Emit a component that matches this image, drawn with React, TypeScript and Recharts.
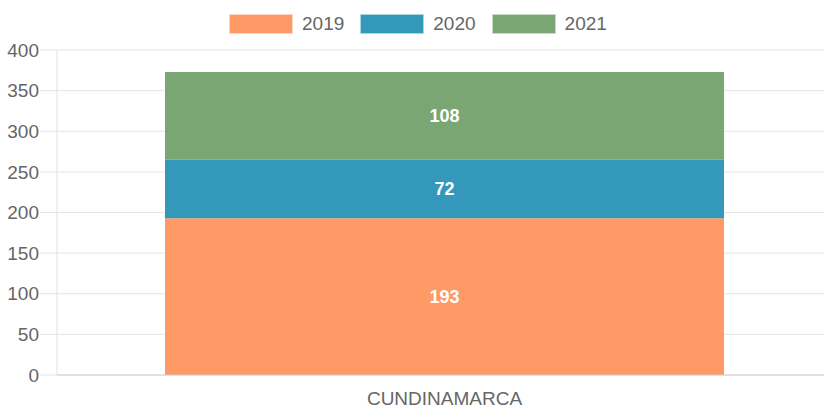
import React from 'react';
import { BarChart, Bar, XAxis, YAxis, CartesianGrid, LabelList } from 'recharts';

const categories = ['CUNDINAMARCA'];
const values2019 = [193];
const values2020 = [72];
const values2021 = [108];
const yTicks = [0, 50, 100, 150, 200, 250, 300, 350, 400];

const SERIES = [
  { key: 'y2019', name: '2019', color: '#ff9966', values: values2019 },
  { key: 'y2020', name: '2020', color: '#3498ba', values: values2020 },
  { key: 'y2021', name: '2021', color: '#7aa673', values: values2021 },
];

const data = categories.map((name, i) => {
  const row: Record<string, string | number> = { name };
  SERIES.forEach((s) => {
    row[s.key] = s.values[i];
  });
  return row;
});

const FONT = '"Liberation Sans", Arial, Helvetica, sans-serif';

const Legend: React.FC = () => (
  <div
    style={{
      position: 'absolute',
      top: 14,
      left: 229,
      display: 'flex',
      gap: 16,
      fontFamily: FONT,
      fontSize: 19,
      color: '#666',
    }}
  >
    {SERIES.map((s) => (
      <div key={s.key} style={{ display: 'flex', alignItems: 'center', gap: 9, height: 20 }}>
        <div style={{ width: 62, height: 18, background: s.color, border: '1px solid rgba(255,255,255,0.6)' }} />
        <span>{s.name}</span>
      </div>
    ))}
  </div>
);

export default function App() {
  return (
    <div style={{ position: 'absolute', left: 0, top: 0, width: 824, height: 409, background: '#fff' }}>
      <Legend />
      <BarChart
        width={824}
        height={409}
        data={data}
        margin={{ top: 50, right: 0, left: 0, bottom: 0 }}
      >
        <CartesianGrid vertical={false} stroke="#e5e5e5" />
        <XAxis
          dataKey="name"
          height={34}
          padding={{ left: 8, right: 0 }}
          tickLine={false}
          tickMargin={11}
          axisLine={{ stroke: '#cfcfcf' }}
          tick={{ fill: '#666', fontSize: 19, fontFamily: FONT }}
        />
        <YAxis
          width={57}
          domain={[0, 400]}
          ticks={yTicks}
          interval={0}
          tickSize={17}
          tickMargin={1}
          tickLine={{ stroke: '#e5e5e5' }}
          axisLine={{ stroke: '#e0e0e0' }}
          tick={{ fill: '#666', fontSize: 19, fontFamily: FONT }}
        />
        {SERIES.map((s) => (
          <Bar
            key={s.key}
            dataKey={s.key}
            name={s.name}
            stackId="a"
            fill={s.color}
            barSize={559}
            isAnimationActive={false}
          >
            <LabelList
              dataKey={s.key}
              position="center"
              fill="#fff"
              style={{ fontFamily: FONT, fontSize: 18, fontWeight: 'bold' }}
            />
          </Bar>
        ))}
      </BarChart>
    </div>
  );
}
